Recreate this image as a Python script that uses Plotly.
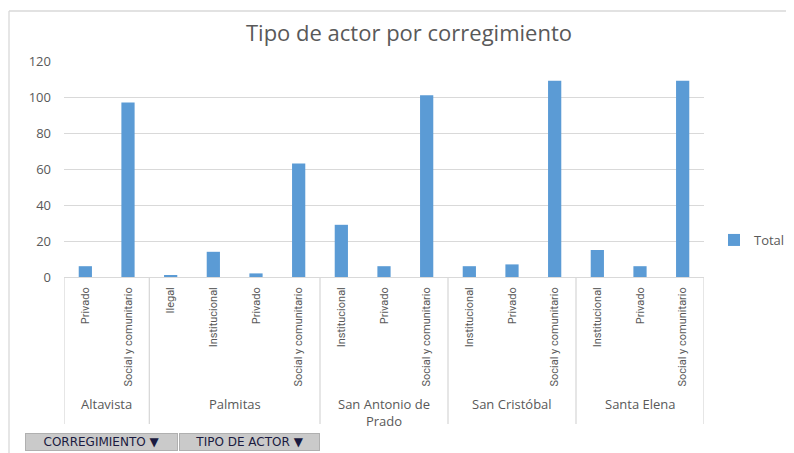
import plotly.graph_objects as go

# ---- data ----
corregimientos = ["Altavista", "Palmitas", "San Antonio de Prado", "San Cristóbal", "Santa Elena"]
group_labels = ["Altavista", "Palmitas", "San Antonio de<br>Prado", "San Cristóbal", "Santa Elena"]
tipos = [
    ["Privado", "Social y comunitario"],
    ["Ilegal", "Institucional", "Privado", "Social y comunitario"],
    ["Institucional", "Privado", "Social y comunitario"],
    ["Institucional", "Privado", "Social y comunitario"],
    ["Institucional", "Privado", "Social y comunitario"],
]
totales = [
    [6, 97],
    [1, 14, 2, 63],
    [29, 6, 101],
    [6, 7, 109],
    [15, 6, 109],
]
y_ticks = [0, 20, 40, 60, 80, 100, 120]

# ---- flatten ----
xs, inner_text, ys = [], [], []
bounds = [-0.5]
i = 0
for g, (ts, vs) in enumerate(zip(tipos, totales)):
    for t, v in zip(ts, vs):
        xs.append(i)
        inner_text.append(t)
        ys.append(v)
        i += 1
    bounds.append(i - 0.5)

BLUE = "#5B9BD5"
GRID = "#D9D9D9"
TXT = "#595959"

OFF = 8  # page body margin
W, H = 794 - OFF, 453 - OFF
PL, PR, PT, PB = 64, 704, 61, 277  # plot area in page pixels
L, R, T, B = PL - OFF, W - (PR - OFF), PT - OFF, H - (PB - OFF)
pw, ph = PR - PL, PB - PT

def py(page_y):
    return (PB - page_y) / ph

def pxx(page_x):
    return (page_x - PL) / pw

fig = go.Figure()
fig.add_trace(go.Bar(x=xs, y=ys, name="Total", marker_color=BLUE,
                     marker_line_width=0, showlegend=True))

shapes = []
for b in bounds:
    shapes.append(dict(type="line", xref="x", yref="paper", x0=b, x1=b,
                       y0=0, y1=py(424), line=dict(color=GRID, width=1.3)))
shapes.append(dict(type="line", xref="paper", yref="paper", x0=pxx(9), x1=pxx(9),
                   y0=py(11), y1=py(460), line=dict(color=GRID, width=1.3)))
shapes.append(dict(type="line", xref="paper", yref="paper", x0=pxx(9), x1=pxx(800),
                   y0=py(11), y1=py(11), line=dict(color=GRID, width=1.3)))

annotations = []
for k, gl in enumerate(group_labels):
    cx = (bounds[k] + bounds[k + 1]) / 2
    annotations.append(dict(x=cx, xref="x", y=py(393), yref="paper", yanchor="top",
                            text=gl, showarrow=False,
                            font=dict(family="Open Sans", size=13, color=TXT)))

for label, x0, x1 in [("CORREGIMIENTO ▼", 25, 178), ("TIPO DE ACTOR ▼", 179, 320)]:
    annotations.append(dict(x=pxx((x0 + x1) / 2), xref="paper", y=py(442), yref="paper",
                            xanchor="center", yanchor="middle", text=label, showarrow=False,
                            width=x1 - x0 - 4, height=14, bgcolor="#CACACA",
                            bordercolor="#B0B0B0", borderwidth=1, borderpad=1,
                            font=dict(family="DejaVu Sans", size=12, color="#1a1a40")))

fig.update_layout(
    width=W, height=H,
    margin=dict(l=L, r=R, t=T, b=B, autoexpand=False),
    paper_bgcolor="white", plot_bgcolor="white",
    title=dict(text="Tipo de actor por corregimiento", x=(409 - OFF) / W, xanchor="center",
               y=1 - (33 - OFF) / H, yanchor="middle",
               font=dict(family="Open Sans", size=22, color=TXT)),
    bargap=0.69,
    xaxis=dict(range=[-0.5, len(xs) - 0.5], tickmode="array", tickvals=xs, ticktext=inner_text,
               tickangle=-90, showgrid=False, zeroline=False, showline=False,
               ticks="", ticklabelstandoff=7,
               tickfont=dict(family="Roboto", size=11, color=TXT)),
    yaxis=dict(range=[0, 120], tickmode="array", tickvals=y_ticks, showgrid=True,
               gridcolor=GRID, gridwidth=1.3, zeroline=True, zerolinecolor=GRID, zerolinewidth=1.3,
               showline=False, ticks="", ticklabelstandoff=12,
               tickfont=dict(family="Open Sans", size=13, color=TXT)),
    legend=dict(x=pxx(714), y=py(240), xanchor="left", yanchor="middle",
                font=dict(family="Open Sans", size=13, color=TXT), itemwidth=30),
    shapes=shapes,
    annotations=annotations,
)

fig.write_html("out.html")
